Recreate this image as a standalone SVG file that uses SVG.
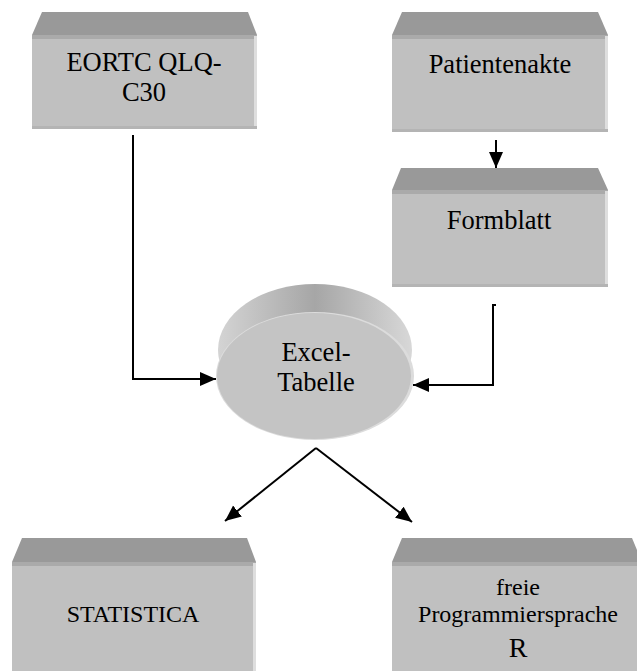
<svg xmlns="http://www.w3.org/2000/svg" width="637" height="671" viewBox="0 0 637 671">
<defs>
<style>
.top{fill:#999999}
.bev{fill:#aaaaaa}
.front{fill:#c0c0c0}
.redge{fill:#dedede}
.bedge{fill:#b4b4b4}
.lbl{font-family:"Liberation Serif","Times New Roman",serif;font-size:26.5px;fill:#000;text-anchor:middle}
.con{fill:none;stroke:#000;stroke-width:2}
</style>
<marker id="ah" markerUnits="userSpaceOnUse" markerWidth="18" markerHeight="16" refX="16" refY="7" orient="auto">
<path d="M0,0 L16,7 L0,14 z" fill="#000"/>
</marker>
<linearGradient id="band" x1="0" y1="0" x2="1" y2="0">
<stop offset="0" stop-color="#d4d4d4"/>
<stop offset="0.5" stop-color="#a6a6a6"/>
<stop offset="1" stop-color="#d8d8d8"/>
</linearGradient>
</defs>

<g id="eortc">
<polygon class="top" points="42,12 248,12 257,35 32,35"/>
<rect class="bev" x="32" y="35" width="225" height="4"/>
<rect class="front" x="32" y="39" width="225" height="90"/>
<rect class="redge" x="254" y="36" width="3" height="93"/>
<rect class="bedge" x="32" y="126" width="225" height="3"/>
<text class="lbl" x="144" y="71">EORTC QLQ-</text>
<text class="lbl" x="144" y="101">C30</text>
</g>

<g id="patientenakte">
<polygon class="top" points="402,12 598,12 608,35 392,35"/>
<rect class="bev" x="392" y="35" width="216" height="4"/>
<rect class="front" x="392" y="39" width="216" height="93"/>
<rect class="redge" x="605" y="36" width="3" height="96"/>
<rect class="bedge" x="392" y="129" width="216" height="3"/>
<text class="lbl" x="500" y="73">Patientenakte</text>
</g>

<g id="formblatt">
<polygon class="top" points="401,168 598,168 608,190 392,190"/>
<rect class="bev" x="392" y="190" width="216" height="4"/>
<rect class="front" x="392" y="194" width="216" height="93"/>
<rect class="redge" x="605" y="191" width="3" height="96"/>
<rect class="bedge" x="392" y="284" width="216" height="3"/>
<text class="lbl" x="499" y="229">Formblatt</text>
</g>

<g id="excel">
<ellipse cx="315" cy="350" rx="97" ry="66" fill="url(#band)"/>
<ellipse cx="315" cy="376" rx="99" ry="64" fill="#dcdcdc"/>
<ellipse cx="314" cy="376" rx="97" ry="63" fill="#c4c4c4"/>
<text class="lbl" x="316" y="361">Excel-</text>
<text class="lbl" x="316" y="391">Tabelle</text>
</g>

<g id="statistica">
<polygon class="top" points="22,538 247,538 256,562 12,562"/>
<rect class="bev" x="12" y="562" width="244" height="4"/>
<rect class="front" x="12" y="566" width="244" height="105"/>
<rect class="redge" x="253" y="563" width="3" height="108"/>
<text class="lbl" x="133" y="622" style="font-size:24px">STATISTICA</text>
</g>

<g id="r">
<polygon class="top" points="402,538 632,538 637,550 637,562 392,562"/>
<rect class="bev" x="392" y="562" width="245" height="4"/>
<rect class="front" x="392" y="566" width="245" height="105"/>
<text class="lbl" x="518" y="595" style="font-size:24px">freie</text>
<text class="lbl" x="518" y="622" style="font-size:24px">Programmiersprache</text>
<text class="lbl" x="518" y="657" style="font-size:28px">R</text>
</g>

<g id="connectors">
<path class="con" d="M133,135 V379 H216" marker-end="url(#ah)"/>
<path class="con" d="M496,305 H493 V385 H413" marker-end="url(#ah)"/>
<path class="con" d="M496,140 V168" marker-end="url(#ah)"/>
<path class="con" d="M316,448 L225,521" marker-end="url(#ah)"/>
<path class="con" d="M316,448 L412,522" marker-end="url(#ah)"/>
</g>
</svg>
